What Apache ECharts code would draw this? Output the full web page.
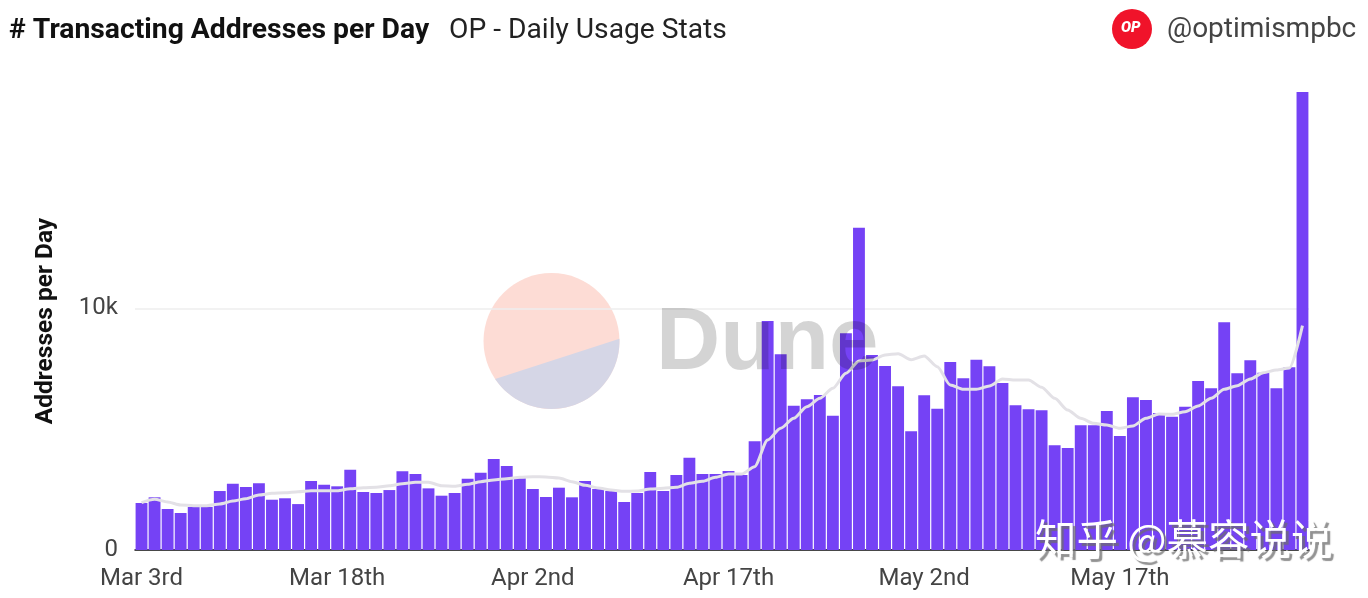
<!DOCTYPE html>
<html>
<head>
<meta charset="utf-8">
<title>Transacting Addresses per Day</title>
<script src="https://cdn.jsdelivr.net/npm/echarts@6/dist/echarts.min.js"></script>
<style>
	html, body { margin: 0; padding: 0; background: #fff; }
	#main { width: 1368px; height: 598px; }
</style>
</head>
<body>
<div id="main"></div>
<script>
'use strict';

const days = [
	'Mar 3rd','Mar 4th','Mar 5th','Mar 6th','Mar 7th','Mar 8th','Mar 9th','Mar 10th','Mar 11th','Mar 12th',
	'Mar 13th','Mar 14th','Mar 15th','Mar 16th','Mar 17th','Mar 18th','Mar 19th','Mar 20th','Mar 21st','Mar 22nd',
	'Mar 23rd','Mar 24th','Mar 25th','Mar 26th','Mar 27th','Mar 28th','Mar 29th','Mar 30th','Mar 31st','Apr 1st',
	'Apr 2nd','Apr 3rd','Apr 4th','Apr 5th','Apr 6th','Apr 7th','Apr 8th','Apr 9th','Apr 10th','Apr 11th',
	'Apr 12th','Apr 13th','Apr 14th','Apr 15th','Apr 16th','Apr 17th','Apr 18th','Apr 19th','Apr 20th','Apr 21st',
	'Apr 22nd','Apr 23rd','Apr 24th','Apr 25th','Apr 26th','Apr 27th','Apr 28th','Apr 29th','Apr 30th','May 1st',
	'May 2nd','May 3rd','May 4th','May 5th','May 6th','May 7th','May 8th','May 9th','May 10th','May 11th',
	'May 12th','May 13th','May 14th','May 15th','May 16th','May 17th','May 18th','May 19th','May 20th','May 21st',
	'May 22nd','May 23rd','May 24th','May 25th','May 26th','May 27th','May 28th','May 29th','May 30th','May 31st'
];

const addresses = [
	1945, 2180, 1696, 1530, 1780, 1780, 2440, 2743, 2606, 2760,
	2080, 2140, 1900, 2855, 2700, 2635, 3320, 2400, 2358, 2480,
	3255, 3145, 2550, 2247, 2358, 2950, 3200, 3765, 3475, 2966,
	2524, 2193, 2578, 2180, 2855, 2524, 2441, 1986, 2358, 3227,
	2441, 3103, 3819, 3145, 3145, 3268, 3103, 4497, 9475, 8097,
	5970, 6235, 6413, 5556, 8966, 13335, 8068, 7613, 6773, 4911,
	6400, 5846, 7778, 7104, 7873, 7600, 6909, 5987, 5821, 5780,
	4332, 4220, 5159, 5159, 5751, 4717, 6318, 6206, 5668, 5515,
	5929, 6992, 6690, 9421, 7311, 7849, 7335, 6690, 7559, 18950
];

const movingAverage = [
	1957, 2097, 1986, 1862, 1833, 1833, 1903, 2027, 2122, 2275,
	2345, 2370, 2412, 2453, 2453, 2453, 2536, 2578, 2593, 2660,
	2743, 2800, 2800, 2660, 2635, 2718, 2826, 2896, 2950, 3008,
	3033, 3020, 2979, 2826, 2677, 2565, 2482, 2428, 2441, 2524,
	2553, 2593, 2760, 2842, 3008, 3145, 3145, 3448, 4551, 5035,
	5448, 5929, 6275, 6690, 7311, 7820, 7860, 8068, 8123, 7874,
	8027, 7585, 6827, 6649, 6649, 6785, 7075, 7033, 7033, 6732,
	6275, 5792, 5448, 5242, 5172, 5035, 5130, 5448, 5627, 5614,
	5722, 5958, 6275, 6649, 6798, 7075, 7335, 7447, 7530, 9280
];

const axisMax = 18950;
const textFont = 'Roboto, "Noto Sans", sans-serif';

// lower slice of the dune logo, from the right end of its edge round to the left end
function logoSlice(cx, cy, r, fromDeg, toDeg) {
	const points = [];
	for (let a = fromDeg; a <= toDeg; a += 4) {
		const rad = a * Math.PI / 180;
		points.push([cx + r * Math.cos(rad), cy + r * Math.sin(rad)]);
	}
	return points;
}

var myChart = echarts.init(document.getElementById('main'));

var option = {
	animation: false,
	backgroundColor: '#fff',
	title: [
		{
			text: '# Transacting Addresses per Day',
			left: 9,
			top: 17,
			padding: 0,
			textStyle: { fontFamily: textFont, fontSize: 28.3, fontWeight: 700, color: '#111' }
		},
		{
			text: 'OP - Daily Usage Stats',
			left: 449,
			top: 17,
			padding: 0,
			textStyle: { fontFamily: textFont, fontSize: 28.2, fontWeight: 400, color: '#222' }
		}
	],
	grid: { left: 135, right: 59, top: 92, bottom: 48 },
	xAxis: {
		type: 'category',
		data: days,
		axisTick: { show: false },
		axisLine: { lineStyle: { color: '#111', width: 1.5 } },
		axisLabel: {
			interval: 14,
			margin: 17,
			fontFamily: textFont,
			fontSize: 24,
			color: '#444'
		}
	},
	yAxis: {
		type: 'value',
		min: 0,
		max: axisMax,
		interval: 10000,
		name: 'Addresses per Day',
		nameLocation: 'middle',
		nameRotate: 90,
		nameGap: 77,
		nameTextStyle: { fontFamily: textFont, fontSize: 24.5, fontWeight: 700, color: '#111' },
		axisLine: { show: false },
		axisTick: { show: false },
		axisLabel: {
			showMaxLabel: false,
			margin: 17,
			fontFamily: textFont,
			fontSize: 24,
			color: '#444',
			formatter: function(v) {
				return v === 0 ? '0' : (v / 1000) + 'k';
			}
		},
		splitLine: { showMaxLine: false, lineStyle: { color: '#eee', width: 1.5 } }
	},
	series: [
		{
			name: 'Addresses',
			type: 'bar',
			data: addresses,
			barWidth: '91%',
			itemStyle: { color: '#7542f5' },
			z: 2
		},
		{
			name: '7d average',
			type: 'line',
			data: movingAverage,
			showSymbol: false,
			smooth: 0.25,
			smoothMonotone: 'x',
			lineStyle: { color: '#e3e1e6', width: 3 },
			z: 3
		}
	],
	graphic: [
		// dune logo and name
		{
			type: 'circle',
			z: -1,
			silent: true,
			shape: { cx: 551.5, cy: 341, r: 68 },
			style: { fill: '#fddcd5' }
		},
		{
			type: 'polygon',
			z: -1,
			silent: true,
			shape: { points: logoSlice(551.5, 341, 68, -2, 146) },
			style: { fill: '#d5d6e6' }
		},
		{
			type: 'text',
			z: 50,
			silent: true,
			left: 656,
			top: 300,
			style: {
				text: 'Dune',
				fontFamily: '"Liberation Sans", sans-serif',
				fontWeight: 'bold',
				fontSize: 89,
				fill: 'rgba(0, 0, 0, 0.17)'
			}
		},
		// account badge
		{
			type: 'circle',
			silent: true,
			shape: { cx: 1132, cy: 29, r: 20 },
			style: { fill: '#f0132a' }
		},
		{
			type: 'text',
			silent: true,
			left: 1121,
			top: 21,
			style: {
				text: 'OP',
				fontFamily: textFont,
				fontWeight: 900,
				fontStyle: 'italic',
				fontSize: 15,
				fill: '#fff'
			}
		},
		{
			type: 'text',
			silent: true,
			left: 1167,
			top: 16,
			style: {
				text: '@optimismpbc',
				fontFamily: textFont,
				fontSize: 28,
				fill: '#444'
			}
		},
		// site watermark
		{
			type: 'text',
			z: 60,
			silent: true,
			left: 1035,
			top: 518,
			style: {
				text: '知乎 @慕容说说',
				fontFamily: '"Noto Sans CJK SC"',
				fontSize: 41.5,
				fill: '#fff',
				textShadowColor: 'rgba(110, 110, 110, 0.75)',
				textShadowBlur: 1,
				textShadowOffsetX: 3,
				textShadowOffsetY: 3
			}
		}
	]
};

myChart.setOption(option);
</script>
</body>
</html>
